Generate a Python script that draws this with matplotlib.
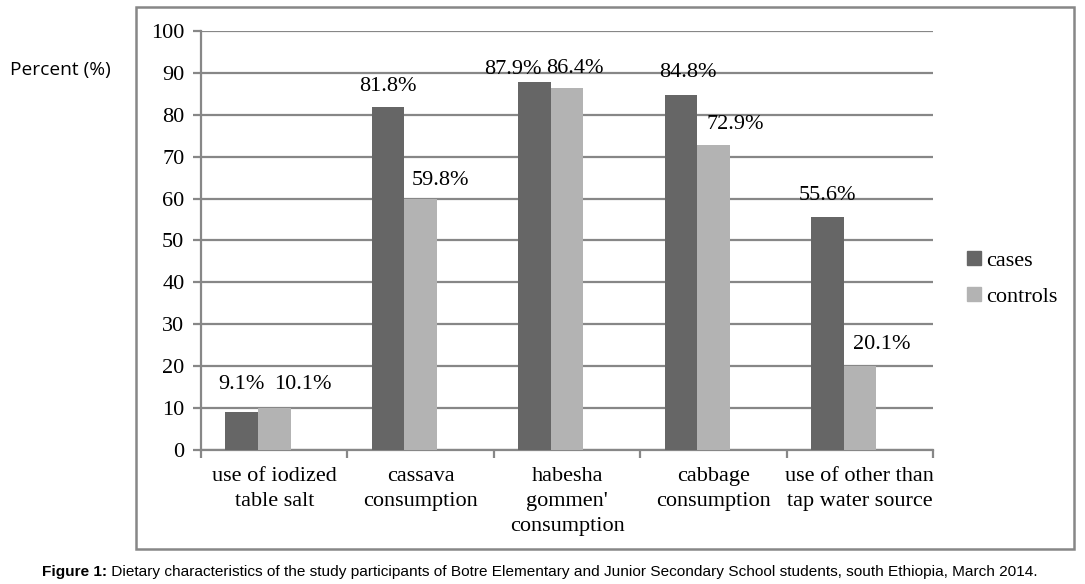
import numpy as np
import matplotlib.pyplot as plt
from matplotlib.patches import Rectangle, Patch

# data
categories = ['use of iodized\ntable salt', 'cassava\nconsumption',
              "habesha\ngommen'\nconsumption", 'cabbage\nconsumption',
              'use of other than\ntap water source']
cases = [9.1, 81.8, 87.9, 84.8, 55.6]
controls = [10.1, 59.8, 86.4, 72.9, 20.1]

# label nudges (pixels) as placed in the original
case_dx = [0, 0, -22, 7, 0]
case_dy = [27, 21, 12, 22, 22]
ctrl_dx = [29, 20, 8, 22, 22]
ctrl_dy = [23, 19, 19, 20, 21]

dark = '#666666'
light = '#b3b3b3'
axis_gray = '#878787'
serif = 'Liberation Serif'
fs = 16

fig = plt.figure(figsize=(10.85, 5.84), dpi=100)
ax = fig.add_axes([0.1853, 0.2295, 0.6746, 0.7174])

x = np.arange(len(categories))
w = 1 / 4.5
b1 = ax.bar(x - w, cases, w, color=dark, zorder=3)
b2 = ax.bar(x, controls, w, color=light, zorder=3)

px = 72 / 100  # pixels -> points
for rect, v, dx, dy in zip(b1, cases, case_dx, case_dy):
    ax.annotate(f'{v}%', (rect.get_x() + rect.get_width() / 2, v),
                xytext=(dx * px, dy * px), textcoords='offset points',
                ha='center', va='center', family=serif, fontsize=fs)
for rect, v, dx, dy in zip(b2, controls, ctrl_dx, ctrl_dy):
    ax.annotate(f'{v}%', (rect.get_x() + rect.get_width() / 2, v),
                xytext=(dx * px, dy * px), textcoords='offset points',
                ha='center', va='center', family=serif, fontsize=fs)

ax.set_xlim(-0.5, len(categories) - 0.5)
ax.set_ylim(0, 100)
ax.set_yticks(np.arange(0, 101, 10))
ax.yaxis.grid(True, color=axis_gray, linewidth=1.6, zorder=0)
ax.set_axisbelow(True)

ax.set_xticks(x)
ax.set_xticklabels(categories, family=serif, fontsize=fs, linespacing=1.45)
ax.set_xticks(np.arange(-0.5, len(categories), 1), minor=True)
ax.tick_params(axis='x', which='major', length=0, pad=12)
ax.tick_params(axis='x', which='minor', length=6, width=1.6, color=axis_gray)
ax.tick_params(axis='y', length=6, width=1.6, color=axis_gray, pad=6)
for lab in ax.get_yticklabels():
    lab.set_family(serif)
    lab.set_fontsize(fs)

for s in ['top', 'right']:
    ax.spines[s].set_visible(False)
for s in ['left', 'bottom']:
    ax.spines[s].set_color(axis_gray)
    ax.spines[s].set_linewidth(1.6)

# outer chart frame
fig.patches.append(Rectangle((0.1253, 0.0599), 0.8645, 0.928, transform=fig.transFigure,
                             fill=False, edgecolor=axis_gray, linewidth=1.8))

fig.text(0.009, 0.88, 'Percent (%)', family='Open Sans', fontsize=13.8, va='center')

handles = [Patch(color=dark, label='cases'), Patch(color=light, label='controls')]
fig.legend(handles=handles, loc='center left', bbox_to_anchor=(0.873, 0.522),
           frameon=False, handlelength=0.6, handleheight=0.6, handletextpad=0.25,
           labelspacing=0.72, prop={'family': serif, 'size': fs})

t1 = fig.text(0.039, 0.0137, 'Figure 1:', family='Liberation Sans', fontsize=11.05,
              weight='bold', va='baseline')
ax.annotate(' Dietary characteristics of the study participants of Botre Elementary and '
            'Junior Secondary School students, south Ethiopia, March 2014.',
            xy=(1, 0), xycoords=t1, va='bottom', family='Liberation Sans', fontsize=11.05,
            annotation_clip=False)

fig.savefig('out.png', dpi=100)
